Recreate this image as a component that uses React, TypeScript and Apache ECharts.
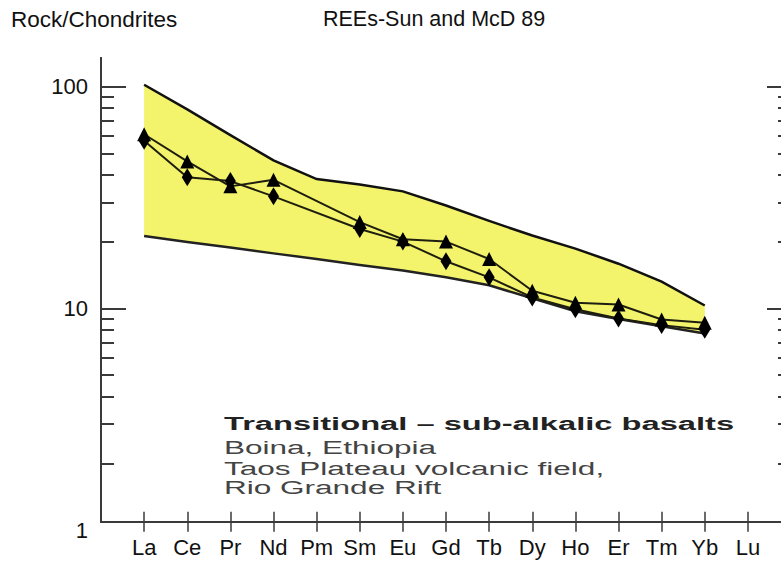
import { useEffect, useRef } from "react";
import * as echarts from "echarts";

// REE elements (x categories)
const elements = ["La", "Ce", "Pr", "Nd", "Pm", "Sm", "Eu", "Gd", "Tb", "Dy", "Ho", "Er", "Tm", "Yb", "Lu"];

// Rock / chondrite normalised values
const sampleTriangles = [61, 46, 35.5, 38, null, 24.5, 20.5, 20, 16.7, 12, 10.6, 10.4, 8.9, 8.6, null];
const sampleDiamonds = [57, 39, 37.5, 32, null, 22.8, 20, 16.3, 13.8, 11.2, 9.9, 9.0, 8.4, 8.0, null];

// Field (yellow envelope) limits
const envelopeUpper = [102, 79, 60.5, 46.5, 38.3, 36.2, 33.7, 29.1, 24.8, 21.3, 18.6, 15.9, 13.2, 10.3, null];
const envelopeLower = [21.2, 19.9, 18.8, 17.7, 16.7, 15.7, 14.8, 13.8, 12.7, 11.1, 9.7, 8.95, 8.3, 7.7, null];

// Axis ticks / labels (log scale)
const yLabelValues = [1, 10, 100];
const yMajorTicks = [10, 100];
const yMinorTicks = [2, 3, 4, 5, 6, 7, 8, 9, 20, 30, 40, 50, 60, 70, 80, 90];
const yMin = 1;
const yMax = 134.7;

const annotationTitle = "Transitional – sub-alkalic basalts";
const annotationLines = ["Boina, Ethiopia", "Taos Plateau volcanic field,", "Rio Grande Rift"];

const FONT = '"Liberation Sans", Arial, Helvetica, sans-serif';

const lg = (v: number) => Math.log10(v);
const toPoints = (vals: (number | null)[]) =>
  vals
    .map((v, i) => (v == null ? null : [i + 1, lg(v)]))
    .filter((p) => p !== null) as number[][];

export default function App() {
  const ref = useRef<HTMLDivElement>(null);

  useEffect(() => {
    if (!ref.current) return;
    const chart = echarts.init(ref.current, undefined, { renderer: "svg" });

    const upperPts = toPoints(envelopeUpper);
    const lowerPts = toPoints(envelopeLower);
    const xTickVals = elements.map((_, i) => i + 1);
    const tickColor = "#3a3a3a";

    const yAxisBase = {
      gridIndex: 0,
      type: "value",
      min: lg(yMin),
      max: lg(yMax),
      axisLine: { show: false },
      splitLine: { show: false },
    };

    const option: any = {
      animation: false,
      backgroundColor: "#ffffff",
      title: [
        {
          text: "Rock/Chondrites",
          left: 11,
          top: 8,
          padding: 0,
          textStyle: { fontFamily: FONT, fontSize: 22.5, fontWeight: "normal", color: "#111" },
        },
        {
          text: "REEs-Sun and McD 89",
          left: 323,
          top: 8,
          padding: 0,
          textStyle: { fontFamily: FONT, fontSize: 21.5, fontWeight: "normal", color: "#111" },
        },
      ],
      grid: [
        // data grid: y = 1 at its bottom edge
        { left: 101, top: 58, width: 690, height: 472, outerBoundsMode: "none", containLabel: false },
        // frame grid
        { left: 101, top: 58, width: 690, height: 463.7, outerBoundsMode: "none", containLabel: false },
      ],
      xAxis: [
        { gridIndex: 0, type: "value", min: 0, max: 16, show: false },
        {
          gridIndex: 1,
          type: "value",
          position: "bottom",
          min: 0,
          max: 16,
          axisLine: { show: true, lineStyle: { color: tickColor, width: 2 } },
          axisTick: {
            show: true,
            inside: true,
            length: 10,
            customValues: xTickVals,
            lineStyle: { color: tickColor, width: 1.5 },
          },
          axisLabel: {
            show: true,
            customValues: xTickVals,
            formatter: (v: number) => elements[Math.round(v) - 1] ?? "",
            margin: 15,
            fontSize: 22,
            fontFamily: FONT,
            color: "#111",
          },
          splitLine: { show: false },
        },
        {
          gridIndex: 1,
          type: "value",
          position: "top",
          min: 0,
          max: 16,
          axisLine: { show: true, lineStyle: { color: tickColor, width: 2 } },
          axisTick: {
            show: true,
            inside: true,
            length: 10,
            customValues: xTickVals,
            lineStyle: { color: tickColor, width: 1.5 },
          },
          axisLabel: { show: false },
          splitLine: { show: false },
        },
      ],
      yAxis: [
        {
          ...yAxisBase,
          position: "left",
          axisTick: {
            show: true,
            inside: true,
            length: 25,
            customValues: yMajorTicks.map(lg),
            lineStyle: { color: tickColor, width: 2 },
          },
          axisLabel: {
            show: true,
            customValues: yLabelValues.map(lg),
            formatter: (v: number) => String(Math.round(Math.pow(10, v))),
            margin: 13,
            fontSize: 22,
            fontFamily: FONT,
            color: "#111",
          },
        },
        {
          ...yAxisBase,
          position: "left",
          axisTick: {
            show: true,
            inside: true,
            length: 13,
            customValues: yMinorTicks.map(lg),
            lineStyle: { color: tickColor, width: 2 },
          },
          axisLabel: { show: false },
        },
        {
          ...yAxisBase,
          position: "right",
          axisTick: {
            show: true,
            inside: true,
            length: 24,
            customValues: yMajorTicks.map(lg),
            lineStyle: { color: tickColor, width: 2 },
          },
          axisLabel: { show: false },
        },
        {
          ...yAxisBase,
          position: "right",
          axisTick: {
            show: true,
            inside: true,
            length: 13,
            customValues: yMinorTicks.map(lg),
            lineStyle: { color: tickColor, width: 2 },
          },
          axisLabel: { show: false },
        },
        {
          gridIndex: 1,
          type: "value",
          position: "left",
          min: 0,
          max: 1,
          axisLine: { show: true, lineStyle: { color: tickColor, width: 2 } },
          axisTick: { show: false },
          axisLabel: { show: false },
          splitLine: { show: false },
        },
        {
          gridIndex: 1,
          type: "value",
          position: "right",
          min: 0,
          max: 1,
          axisLine: { show: true, lineStyle: { color: tickColor, width: 2 } },
          axisTick: { show: false },
          axisLabel: { show: false },
          splitLine: { show: false },
        },
      ],
      series: [
        {
          type: "custom",
          name: "Field",
          xAxisIndex: 0,
          yAxisIndex: 0,
          silent: true,
          z: 1,
          data: [[1, 1]],
          renderItem: (_params: any, api: any) => {
            const up = upperPts.map((p) => api.coord(p));
            const lo = lowerPts.map((p) => api.coord(p));
            return {
              type: "group",
              children: [
                {
                  type: "polygon",
                  shape: { points: [...up, ...lo.slice().reverse()] },
                  style: { fill: "#f4f46c", stroke: null },
                },
                {
                  type: "polyline",
                  shape: { points: up },
                  style: { stroke: "#111", lineWidth: 2.5, fill: null },
                },
                {
                  type: "polyline",
                  shape: { points: lo },
                  style: { stroke: "#222", lineWidth: 2.5, fill: null },
                },
              ],
            };
          },
        },
        {
          type: "line",
          name: "Sample A",
          xAxisIndex: 0,
          yAxisIndex: 0,
          z: 3,
          data: toPoints(sampleTriangles),
          symbol: "triangle",
          symbolSize: [14, 14],
          showSymbol: true,
          itemStyle: { color: "#000" },
          lineStyle: { color: "#1e1e10", width: 2 },
        },
        {
          type: "line",
          name: "Sample B",
          xAxisIndex: 0,
          yAxisIndex: 0,
          z: 3,
          data: toPoints(sampleDiamonds),
          symbol: "diamond",
          symbolSize: [11, 18],
          showSymbol: true,
          itemStyle: { color: "#000" },
          lineStyle: { color: "#1e1e10", width: 2 },
        },
      ],
      graphic: [
        {
          type: "text",
          x: 224,
          y: 424,
          scaleX: 1.72,
          style: {
            text: annotationTitle,
            font: `bold 19px ${FONT}`,
            fill: "#222",
            align: "left",
            verticalAlign: "middle",
          },
        },
        ...annotationLines.map((t, i) => ({
          type: "text",
          x: 224,
          y: [447, 468, 487][i],
          scaleX: 1.66,
          style: {
            text: t,
            font: `19px ${FONT}`,
            fill: "#444",
            align: "left",
            verticalAlign: "middle",
          },
        })),
      ],
    };

    chart.setOption(option);
    return () => chart.dispose();
  }, []);

  return (
    <div
      ref={ref}
      style={{ position: "absolute", left: 0, top: 0, width: 781, height: 563, background: "#fff" }}
    />
  );
}
